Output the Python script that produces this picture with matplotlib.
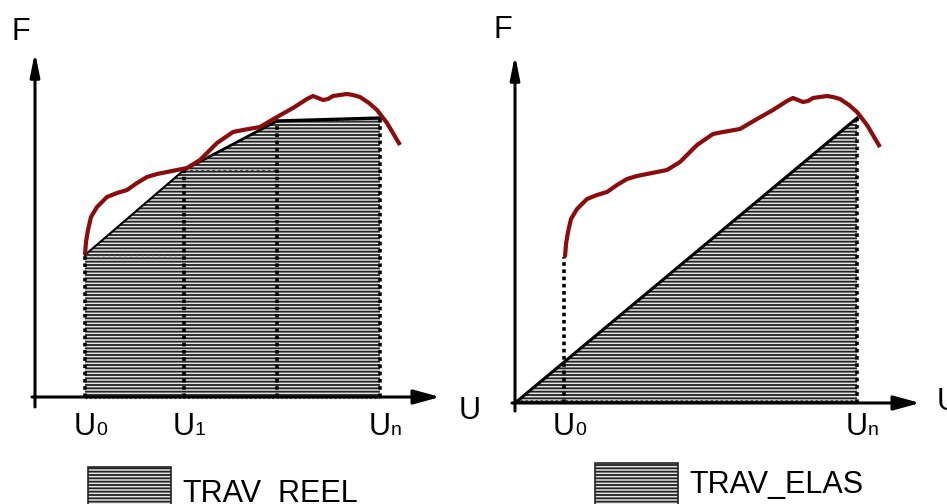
import matplotlib
matplotlib.use("Agg")
import matplotlib.pyplot as plt
from matplotlib.patches import Rectangle

plt.rcParams["font.family"] = ["Liberation Sans", "DejaVu Sans"]
plt.rcParams["hatch.linewidth"] = 1.3

# ---------------------------------------------------------------------------
# Schematic data (units: pixels measured from each panel's origin)
# ---------------------------------------------------------------------------

# measured force-displacement curve (same curve in both panels)
RED_U = [50, 51, 53, 56, 62, 72, 82, 92, 102, 112, 122, 132, 142, 152,
         165, 182, 198, 208, 225, 242, 258, 272, 278, 283, 288, 293, 298,
         305, 312, 318, 325, 334, 342, 352, 365]
RED_F = [142, 155, 167, 180, 190, 200, 204, 207, 214, 220, 223, 225, 227,
         229, 237, 254, 265, 267, 270, 280, 289, 298, 301, 299, 297, 298,
         301, 302, 303, 302, 300, 294, 287, 274, 252]

# piecewise-linear approximation (left panel, TRAV_REEL)
STEP_U = [50, 149, 242, 345]
STEP_F = [142, 227, 276, 279]
STEP_LABELS = ["0", "1", None, "n"]

# elastic approximation (right panel, TRAV_ELAS)
ELAS_U = [0, 342]
ELAS_F = [0, 285]
ELAS_U0 = 49
ELAS_LABELS = [(49, "0"), (342, "n")]

RED = "#8b0c0c"
HATCH_FACE = "#e4e4e4"
HATCH_EDGE = "#222222"
HATCH = "-----"

W, H = 947, 504
fig = plt.figure(figsize=(W / 100, H / 100), dpi=100)


def _panel(ox, oy):
    """Full-figure axes with its data origin placed at pixel (ox, oy)."""
    ax = fig.add_axes([0, 0, 1, 1])
    ax.set_xlim(-ox, W - ox)
    ax.set_ylim(-(H - oy), oy)
    ax.axis("off")
    ax.patch.set_alpha(0)
    return ax


def _axes_arrows(ax, xlen, ylen, ybot=-10):
    ax.annotate("", xy=(xlen, 0), xytext=(-3, 0),
                arrowprops=dict(arrowstyle="-|>,head_length=0.8,head_width=0.22",
                                lw=2.2, color="black", mutation_scale=20,
                                shrinkA=0, shrinkB=0), zorder=6)
    ax.annotate("", xy=(0, ylen), xytext=(0, ybot),
                arrowprops=dict(arrowstyle="-|>,head_length=0.7,head_width=0.14",
                                lw=2.2, color="black", mutation_scale=20,
                                shrinkA=0, shrinkB=0), zorder=6)


def _ulabel(ax, u, y, sub):
    ax.text(u - 13, y, "U", fontsize=22, ha="left", va="baseline")
    ax.text(u + 9, y, sub, fontsize=14, ha="left", va="baseline")


def _vdots(ax, u, f):
    ax.plot([u, u], [0, f], color="black", lw=2.6, ls=(0, (1, 1)), zorder=4)


# ---------------------------------------------------------------------------
# Left panel: TRAV_REEL
# ---------------------------------------------------------------------------
axl = _panel(35, 397)
axl.fill_between(STEP_U, STEP_F, 0, facecolor=HATCH_FACE, edgecolor=HATCH_EDGE,
                 hatch=HATCH, lw=0, zorder=2)
for i in range(len(STEP_U) - 1):
    axl.plot([STEP_U[i], STEP_U[i + 1]], [STEP_F[i], STEP_F[i]],
             color="#444444", lw=1.0, ls=(0, (2, 2)), zorder=3)
axl.plot([STEP_U[0], STEP_U[-1]], [-1, -1], color="#555555", lw=0.8,
         ls=(0, (2, 2)), zorder=3)
for u, f in zip(STEP_U, STEP_F):
    _vdots(axl, u, f)
axl.plot(STEP_U[:2], STEP_F[:2], color="black", lw=1.5, zorder=4)
axl.plot(STEP_U[1:3], STEP_F[1:3], color="black", lw=2.0, zorder=4)
axl.plot(STEP_U[-2:], STEP_F[-2:], color="black", lw=2.4, zorder=4)
axl.plot(RED_U, RED_F, color=RED, lw=3, solid_joinstyle="round",
         solid_capstyle="butt", zorder=5)
_axes_arrows(axl, 405, 345)
for u, s in zip(STEP_U, STEP_LABELS):
    if s is not None:
        _ulabel(axl, u + 2, -38, s)

# ---------------------------------------------------------------------------
# Right panel: TRAV_ELAS
# ---------------------------------------------------------------------------
axr = _panel(515, 403)
axr.fill_between(ELAS_U, ELAS_F, 0, facecolor=HATCH_FACE, edgecolor=HATCH_EDGE,
                 hatch=HATCH, lw=0, zorder=2)
axr.plot([ELAS_U[0], ELAS_U[-1]], [3, 3], color="#555555", lw=0.9,
         ls=(0, (2, 2)), zorder=3)
_vdots(axr, ELAS_U0, RED_F[0] + 4)
_vdots(axr, ELAS_U[-1], ELAS_F[-1])
axr.plot(ELAS_U, ELAS_F, color="black", lw=2.2, zorder=4)
axr.plot(RED_U, [f + 4 for f in RED_F], color=RED, lw=3,
         solid_joinstyle="round", solid_capstyle="butt", zorder=5)
_axes_arrows(axr, 405, 348, ybot=-8)
for u, s in ELAS_LABELS:
    _ulabel(axr, u + 2, -32, s)

# ---------------------------------------------------------------------------
# Overlay in pixel coordinates: axis titles and legend boxes
# ---------------------------------------------------------------------------
ov = fig.add_axes([0, 0, 1, 1])
ov.set_xlim(0, W)
ov.set_ylim(H, 0)
ov.axis("off")
ov.patch.set_alpha(0)

ov.text(11, 40, "F", fontsize=22, va="baseline")
ov.text(494, 38, "F", fontsize=22, va="baseline")
ov.text(459, 419, "U", fontsize=22, va="baseline")
ov.text(937, 410, "U", fontsize=22, va="baseline")

for x0, y0, label, tx, ty in [(88, 467, "TRAV_REEL", 182, 502),
                              (595, 463, "TRAV_ELAS", 689, 493)]:
    ov.add_patch(Rectangle((x0, y0), 83, 50, facecolor=HATCH_FACE,
                           edgecolor=HATCH_EDGE, hatch=HATCH, lw=1.2))
    ov.text(tx, ty, label, fontsize=22, va="baseline")

fig.savefig("out.png", dpi=100)
